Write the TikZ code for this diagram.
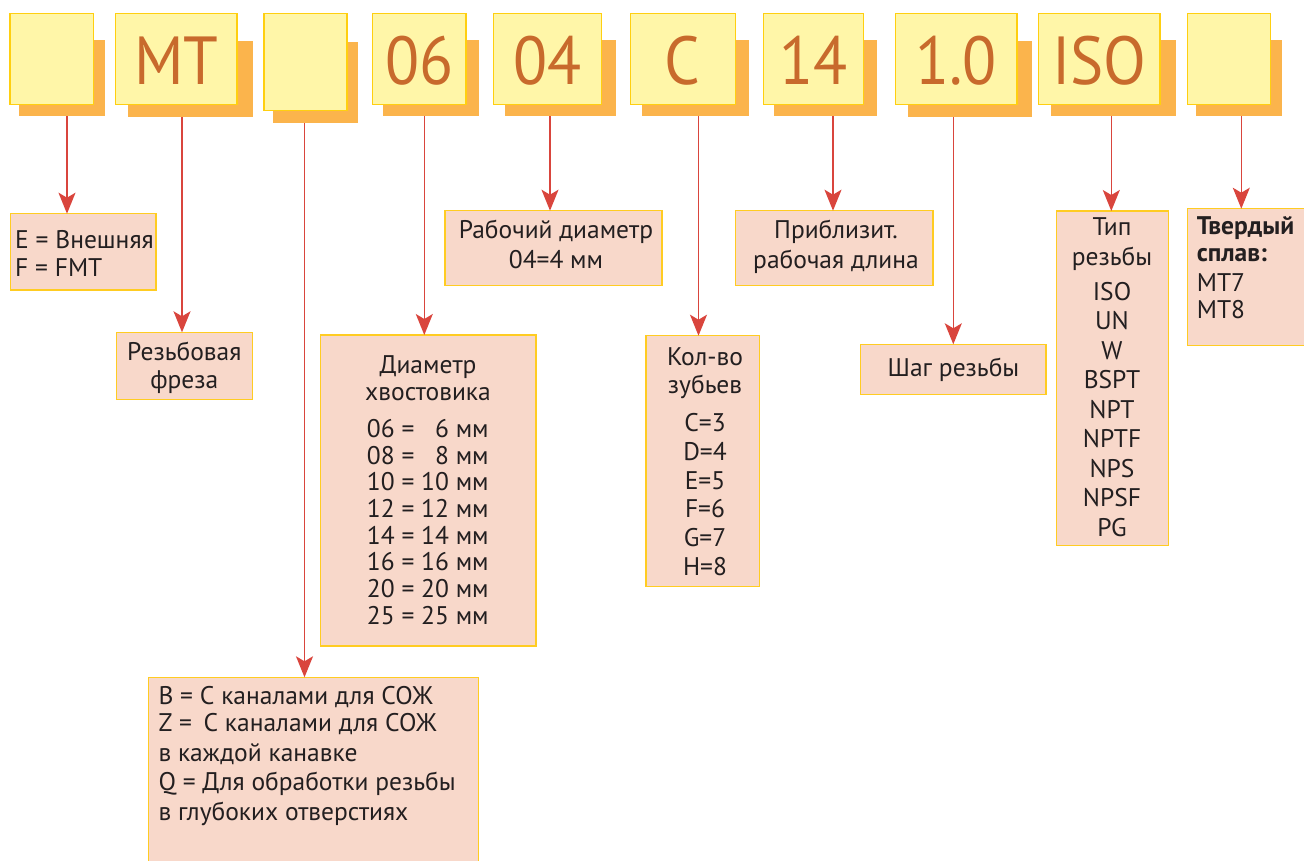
\documentclass[tikz,border=0pt]{standalone}
\usepackage{fontspec}
\setmainfont{PT Sans}
\newfontfamily\bigfont{PT Sans}[FakeStretch=0.92]
\usetikzlibrary{arrows.meta}
\definecolor{frontfill}{HTML}{FFF6A8}
\definecolor{frontdraw}{HTML}{FFCF10}
\definecolor{shadowc}{HTML}{FBB44C}
\definecolor{bigtext}{HTML}{C86A2C}
\definecolor{boxfill}{HTML}{F8D8CA}
\definecolor{boxdraw}{HTML}{FFCC22}
\definecolor{arrowc}{HTML}{D9453D}
\definecolor{textc}{HTML}{231F20}
\tikzset{
 front/.style={fill=frontfill, draw=frontdraw, line width=1.3pt, inner sep=0pt, outer sep=0pt},
 shadowbox/.style={fill=shadowc, inner sep=0pt, outer sep=0pt},
 infobox/.style={fill=boxfill, draw=boxdraw, line width=1.3pt, inner sep=0pt, outer sep=0pt},
 bigtxt/.style={text=bigtext, font=\bigfont\fontsize{68}{68}\selectfont, anchor=base, inner sep=0pt},
 txt/.style={text=textc, font=\fontsize{25.5}{25.5}\selectfont, anchor=base, inner sep=0pt},
 ltxt/.style={txt, anchor=base west},
 conn/.style={draw=arrowc, line width=1.5pt, -{Stealth[length=21pt,width=17pt,inset=5pt,fill=arrowc]}},
}
\newcommand\rbox[6]{\node[#1, minimum width={(#5-#3)*1pt}, minimum height={(#6-#4)*1pt}] (#2) at ({(#3+#5)/2},{(#4+#6)/2}) {};}
\begin{document}
\begin{tikzpicture}[x=1pt,y=-1pt]
\useasboundingbox (0,0) rectangle (1304,860);
% shadows
\rbox{shadowbox}{s1}{19}{40}{105}{116}
\rbox{shadowbox}{s2}{128}{41}{253}{117}
\rbox{shadowbox}{s3}{273}{42}{358}{123}
\rbox{shadowbox}{s4}{383}{40}{479}{116}
\rbox{shadowbox}{s5}{505}{40}{616}{116}
\rbox{shadowbox}{s6}{642}{40}{749}{116}
\rbox{shadowbox}{s7}{774}{40}{877}{116}
\rbox{shadowbox}{s8}{908}{41}{1032}{117}
\rbox{shadowbox}{s9}{1051}{40}{1176}{116}
\rbox{shadowbox}{s10}{1196}{40}{1282}{116}
% front boxes
\rbox{front}{f1}{10}{13.5}{93.7}{104.3}
\rbox{front}{f2}{115.5}{13.5}{237}{104.3}
\rbox{front}{f3}{264}{13.5}{347}{110.5}
\rbox{front}{f4}{372.7}{13.5}{466}{104.3}
\rbox{front}{f5}{493.3}{13.5}{601.3}{104.3}
\rbox{front}{f6}{630.3}{13.5}{735.3}{104.3}
\rbox{front}{f7}{763.3}{13.5}{863.7}{104.3}
\rbox{front}{f8}{895.3}{13.5}{1017}{104.3}
\rbox{front}{f9}{1038.3}{13.5}{1160}{104.3}
\rbox{front}{f10}{1187.7}{13.5}{1270.7}{104.3}
% big codes
\node[bigtxt] (tMT) at (f2.center |- 0,84) {MT};
\node[bigtxt] (t06) at (f4.center |- 0,84) {06};
\node[bigtxt] (t04) at (f5.center |- 0,84) {04};
\node[bigtxt] (tC) at (f6.center |- 0,84) {C};
\node[bigtxt] (t14) at (f7.center |- 0,84) {14};
\node[bigtxt] (t10) at (f8.center |- 0,84) {1.0};
\node[bigtxt] (tISO) at (f9.center |- 0,84) {ISO};
% info boxes
\rbox{infobox}{bE}{10.3}{213.7}{156}{290}
\rbox{infobox}{bR}{116.3}{332.3}{252.3}{399.3}
\rbox{infobox}{bD}{320.3}{335}{536}{646}
\rbox{infobox}{bB}{148.3}{677.3}{478.3}{875}
\rbox{infobox}{bW}{445}{210.7}{662}{285.3}
\rbox{infobox}{bK}{646}{335.7}{759.3}{586.7}
\rbox{infobox}{bP}{735.7}{210.7}{933}{285.3}
\rbox{infobox}{bS}{860.7}{344.3}{1046}{394.7}
\rbox{infobox}{bT}{1056.3}{211}{1168.3}{545.7}
\rbox{infobox}{bH}{1187.7}{208.7}{1315}{345.7}
% connectors
\coordinate (c1) at (67,0);
\coordinate (c2) at (182,0);
\coordinate (c3) at (304.5,0);
\coordinate (c4) at (424.3,0);
\coordinate (c5) at (550,0);
\coordinate (c6) at (698.5,0);
\coordinate (c7) at (833,0);
\coordinate (c8) at (953.3,0);
\coordinate (c9) at (1111.3,0);
\coordinate (c10) at (1241.3,0);
\draw[conn] (c1 |- s1.south) -- (c1 |- bE.north);
\draw[conn] (c2 |- s2.south) -- (c2 |- bR.north);
\draw[conn] (c3 |- s3.south) -- (c3 |- bB.north);
\draw[conn] (c4 |- s4.south) -- (c4 |- bD.north);
\draw[conn] (c5 |- s5.south) -- (c5 |- bW.north);
\draw[conn] (c6 |- s6.south) -- (c6 |- bK.north);
\draw[conn] (c7 |- s7.south) -- (c7 |- bP.north);
\draw[conn] (c8 |- s8.south) -- (c8 |- bS.north);
\draw[conn] (c9 |- s9.south) -- (c9 |- bT.north);
\draw[conn] (c10 |- s10.south) -- (c10 |- bH.north);
% texts
\node[ltxt] (e1) at (15,248) {E = Внешняя};
\node[ltxt] (e2) at (15,276.5) {F = FMT};
\node[txt] (r1) at (184.3,360) {Резьбовая};
\node[txt] (r2) at (184.3,388) {фреза};
\node[txt] (w1) at (556,238.3) {Рабочий диаметр};
\node[txt] (w2) at (556,268.3) {04=4 мм};
\node[txt] (p1) at (836,238.3) {Приблизит.};
\node[txt] (p2) at (836,268.3) {рабочая длина};
\node[txt] (sh1) at (953.5,376.7) {Шаг резьбы};
\node[txt] (d1) at (428,373.3) {Диаметр};
\node[txt] (d2) at (428,400) {хвостовика};
\foreach \t [count=\i] in {06 = \phantom{1}6 мм, 08 = \phantom{1}8 мм, 10 = 10 мм, 12 = 12 мм, 14 = 14 мм, 16 = 16 мм, 20 = 20 мм, 25 = 25 мм}
  \node[ltxt] (dl\i) at (366.7,{437.3+26.7*(\i-1)}) {\t};
\node[txt] (k1) at (705,365) {Кол-во};
\node[txt] (k2) at (705,393.3) {зубьев};
\foreach \t [count=\i] in {C=3, D=4, E=5, F=6, G=7, H=8}
  \node[txt] (kl\i) at (705,{431.7+28.66*(\i-1)}) {\t};
\node[txt] (ty1) at (1112,235) {Тип};
\node[txt] (ty2) at (1112,265) {резьбы};
\foreach \t [count=\i] in {ISO, UN, W, BSPT, NPT, NPTF, NPS, NPSF, PG}
  \node[txt] (tl\i) at (1112,{300+29.5*(\i-1)}) {\t};
\node[ltxt] (h1) at (1196.7,234.3) {\bfseries Твердый};
\node[ltxt] (h2) at (1196.7,261) {\bfseries сплав:};
\node[ltxt] (h3) at (1196.7,291.7) {MT7};
\node[ltxt] (h4) at (1196.7,318.3) {MT8};
\node[ltxt] (bl1) at (158.3,704) {B = С каналами для СОЖ};
\node[ltxt] (bl2) at (158.3,731.7) {Z =\hspace{0.45em}С каналами для СОЖ};
\node[ltxt] (bl3) at (158.3,761.7) {в каждой канавке};
\node[ltxt] (bl4) at (158.3,790) {Q = Для обработки резьбы};
\node[ltxt] (bl5) at (158.3,820) {в глубоких отверстиях};
\end{tikzpicture}
\end{document}
